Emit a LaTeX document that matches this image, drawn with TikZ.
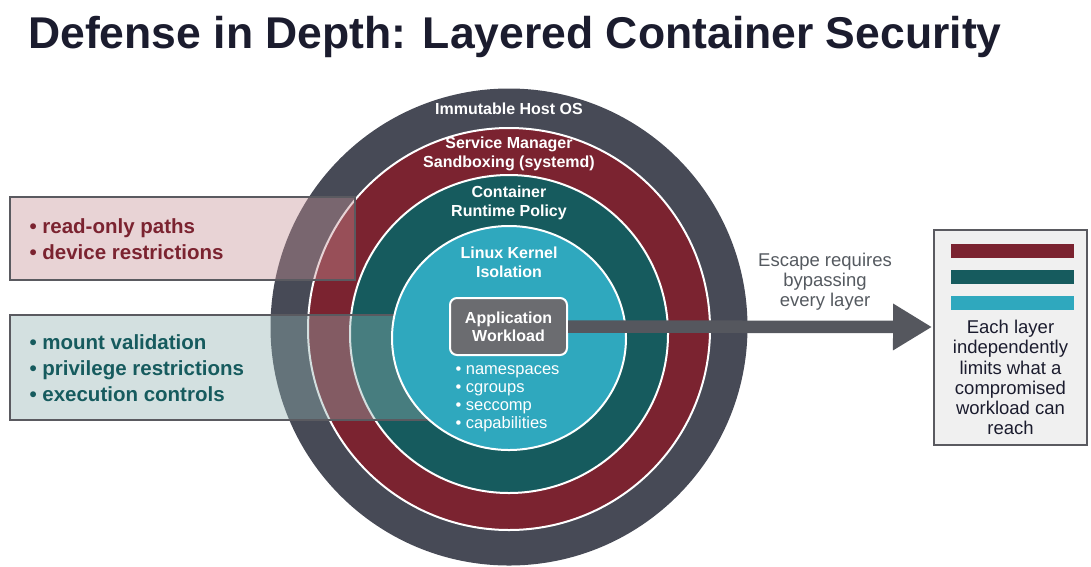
\documentclass[tikz,border=0pt]{standalone}
\usepackage{fontspec}
\setmainfont{Liberation Sans}
\usetikzlibrary{arrows.meta}

\definecolor{titleink}{RGB}{27,28,46}
\definecolor{hostgray}{RGB}{71,74,86}
\definecolor{sandred}{RGB}{123,35,48}
\definecolor{runteal}{RGB}{22,91,94}
\definecolor{kerncyan}{RGB}{47,168,190}
\definecolor{appgray}{RGB}{107,108,112}
\definecolor{arrowgray}{RGB}{85,87,94}
\definecolor{framegray}{RGB}{90,90,96}
\definecolor{notegray}{RGB}{85,90,96}
\definecolor{pinkfill}{RGB}{197,145,150}
\definecolor{tealfill}{RGB}{145,177,177}
\definecolor{panelfill}{RGB}{240,240,240}

\tikzset{
  ring/.style={draw=white, line width=2pt},
  ringlabel/.style={text=white, font=\bfseries\fontsize{16}{19}\selectfont, align=center},
  notebox/.style={draw=framegray, line width=2pt, fill opacity=0.4},
  notetext/.style={font=\bfseries\fontsize{20.5}{26}\selectfont, align=left, anchor=west},
  legendbar/.style={minimum width=123pt, minimum height=14pt, inner sep=0pt}
}

\begin{document}
\begin{tikzpicture}[x=1pt, y=-1pt]
\useasboundingbox (0,0) rectangle (1091,566);

% Title
\node[anchor=base west, inner sep=0pt, text=titleink,
      font=\bfseries\fontsize{44.5}{50}\selectfont] (title) at (28,48)
  {Defense in Depth: Layered Container Security};

% Layer rings
\fill[hostgray] (509,327) circle (238.5);
\filldraw[ring, fill=sandred] (509,329) circle (201);
\filldraw[ring, fill=runteal] (509,334) circle (159);

% Side notes (under the kernel ring)
\filldraw[notebox, fill=pinkfill] (10,197) rectangle (355,280);
\filldraw[notebox, fill=tealfill] (10,315) rectangle (440,420);

\filldraw[ring, fill=kerncyan] (509,338) ellipse [x radius=117, y radius=112];

% Ring labels
\node[ringlabel] (host) at (509,109) {Immutable Host OS};
\node[ringlabel] (sandbox) at (509,154) {Service Manager\\Sandboxing (systemd)};
\node[ringlabel] (runtime) at (509,203) {Container\\Runtime Policy};
\node[ringlabel] (kernel) at (509,262) {Linux Kernel\\Isolation};

% Workload and escape arrow
\coordinate (exit) at (932,327);
\node[draw=white, line width=2pt, fill=appgray, rounded corners=7pt,
      minimum width=117pt, minimum height=57pt, inner sep=2pt,
      ringlabel, font=\bfseries\fontsize{16}{18}\selectfont] (workload) at (508.5,326.5)
  {Application\\Workload};
\draw[arrowgray, line width=12.5pt, -{Triangle[length=39pt, width=44pt]}]
  (workload.east) -- (exit);

\node[text=white, font=\fontsize{16.5}{18}\selectfont, align=left, anchor=west]
  (kernelitems) at (452,399)
  {• namespaces\\• cgroups\\• seccomp\\• capabilities};

\node[notetext, text=sandred] (sandboxnote) at (26,239)
  {• read-only paths\\• device restrictions};
\node[notetext, text=runteal] (runtimenote) at (26,368)
  {• mount validation\\• privilege restrictions\\• execution controls};

\node[text=notegray, font=\fontsize{18.5}{20}\selectfont, align=center]
  (escape) at (825,282) {Escape requires\\bypassing\\every layer};

% Legend panel
\filldraw[draw=framegray, line width=2pt, fill=panelfill] (934,230) rectangle (1087,445);
\node[legendbar, fill=sandred] (barred) at (1012.5,251) {};
\node[legendbar, fill=runteal] (barteal) at (1012.5,277) {};
\node[legendbar, fill=kerncyan] (barcyan) at (1012.5,302.5) {};
\node[text=titleink, font=\fontsize{18.5}{20.2}\selectfont, align=center]
  (summary) at (1010.5,377.5)
  {Each layer\\independently\\limits what a\\compromised\\workload can\\reach};

\end{tikzpicture}
\end{document}
